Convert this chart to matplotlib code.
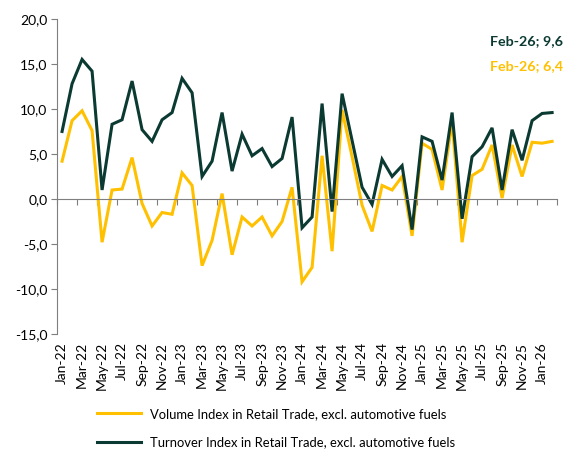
import matplotlib
matplotlib.use("Agg")
import matplotlib.pyplot as plt
import matplotlib.transforms as mtransforms
import numpy as np

months = ["Jan", "Feb", "Mar", "Apr", "May", "Jun", "Jul", "Aug", "Sep", "Oct", "Nov", "Dec"]
categories = [f"{m}-{y}" for y in ["22", "23", "24", "25"] for m in months] + ["Jan-26", "Feb-26"]

volume = [4.2, 8.7, 9.8, 7.6, -4.8, 1.0, 1.1, 4.6, -0.5, -3.0, -1.5, -1.7,
          2.9, 1.5, -7.4, -4.6, 0.6, -6.2, -2.0, -3.0, -2.0, -4.1, -2.5, 1.3,
          -9.2, -7.6, 4.8, -5.8, 9.9, 4.7, -0.7, -3.6, 1.5, 1.0, 2.5, -4.1,
          6.2, 5.5, 1.0, 8.6, -4.8, 2.6, 3.3, 6.0, 0.1, 6.0, 2.5, 6.3,
          6.2, 6.4]
turnover = [7.5, 12.8, 15.5, 14.2, 1.0, 8.3, 8.8, 13.1, 7.7, 6.4, 8.8, 9.6,
            13.4, 11.8, 2.5, 4.2, 9.6, 3.1, 7.2, 4.8, 5.6, 3.6, 4.5, 9.1,
            -3.2, -2.0, 10.6, -1.4, 11.7, 6.5, 1.3, -0.6, 4.4, 2.5, 3.7, -3.4,
            6.9, 6.4, 2.1, 9.6, -2.2, 4.7, 5.8, 7.9, 1.0, 7.7, 4.3, 8.7,
            9.5, 9.6]
yticks = [-15, -10, -5, 0, 5, 10, 15, 20]

label_volume = "Volume Index in Retail Trade, excl. automotive fuels"
label_turnover = "Turnover Index in Retail Trade, excl. automotive fuels"

YELLOW = "#FFC000"
DARK = "#0B3A32"

plt.rcParams['font.family'] = ['Lato', 'DejaVu Sans']

fig = plt.figure(figsize=(5.65, 4.51), dpi=100)
ax = fig.add_axes([0.101, 0.2594, 0.885, 0.6986])

x = np.arange(len(categories))
l1, = ax.plot(x, volume, color=YELLOW, lw=2.2, solid_joinstyle='miter', label=label_volume)
l2, = ax.plot(x, turnover, color=DARK, lw=2.2, solid_joinstyle='miter', label=label_turnover)

ax.set_xlim(-0.5, len(categories) - 0.5)
ax.set_ylim(-15, 20)
ax.set_yticks(yticks)
ax.set_yticklabels([f"{v:.1f}".replace(".", ",") for v in yticks], fontsize=10, color="#000000")

for s in ["top", "right"]:
    ax.spines[s].set_visible(False)
ax.spines["left"].set_color("#7f7f7f")
ax.spines["bottom"].set_position(("data", 0))
ax.spines["bottom"].set_color("#7f7f7f")
ax.tick_params(axis="y", direction="out", length=4, color="#7f7f7f", pad=3)
ax.set_xticks(np.arange(-0.5, len(categories), 2))
ax.tick_params(axis="x", direction="out", length=4, color="#7f7f7f", labelbottom=False)

trans = mtransforms.blended_transform_factory(ax.transData, ax.transAxes)
for i in range(0, len(categories), 2):
    ax.text(i, -0.025, categories[i], transform=trans, rotation=90, ha="center", va="top",
            fontsize=10, color="#000000")

fig.text(0.997, 0.91, f"{categories[-1]}; {turnover[-1]:.1f}".replace(".", ","),
         color=DARK, fontsize=10.3, fontweight="bold", ha="right", va="center")
fig.text(0.997, 0.853, f"{categories[-1]}; {volume[-1]:.1f}".replace(".", ","),
         color=YELLOW, fontsize=10.3, fontweight="bold", ha="right", va="center")

fig.legend(handles=[l1, l2], loc="lower left", bbox_to_anchor=(0.15, -0.02), frameon=False,
           fontsize=9.4, handlelength=3.4, handletextpad=0.7, labelspacing=1.25)

fig.savefig("out.png", dpi=100)
